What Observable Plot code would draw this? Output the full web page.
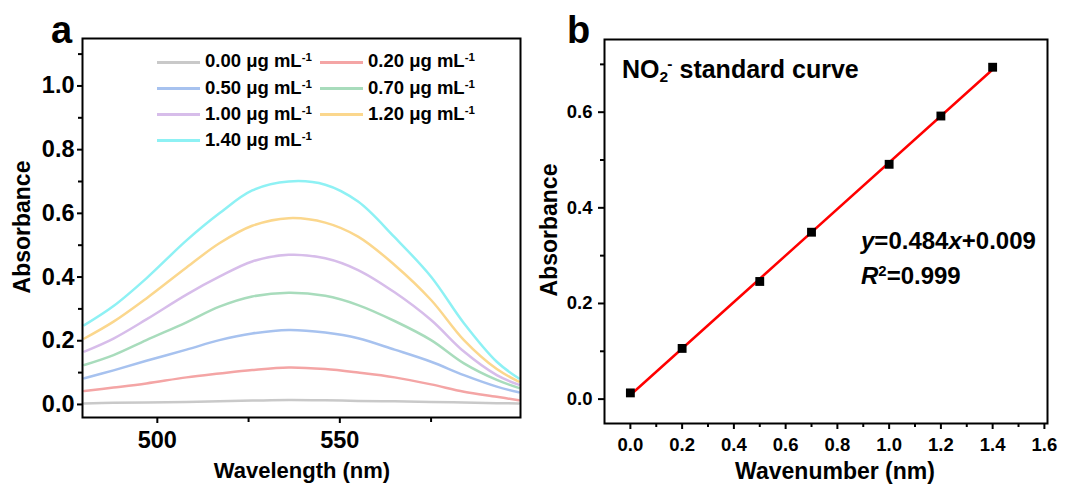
<!DOCTYPE html>
<html>
<head>
<meta charset="utf-8">
<script src="https://cdn.jsdelivr.net/npm/d3@7"></script>
<script src="https://cdn.jsdelivr.net/npm/@observablehq/plot@0.6"></script>
<style>
  html, body { margin: 0; padding: 0; background: #fff; }
  #wrap { position: relative; width: 1083px; height: 495px; overflow: hidden;
          font-family: "Liberation Sans", Arial, sans-serif; font-weight: bold; color: #000; }
  .t { position: absolute; white-space: nowrap; line-height: 1; }
  .plot { position: absolute; top: 0; }
  sup.s { font-size: 0.62em; position: relative; top: -0.55em; vertical-align: baseline; line-height: 0; }
  sub.s { font-size: 0.62em; position: relative; top: 0.3em; vertical-align: baseline; line-height: 0; }
  .sw { position: absolute; height: 3px; width: 43px; }
</style>
</head>
<body>
<div id="wrap"></div>
<script>
// ---------- Panel a data: UV-vis spectra ----------
const wavelength = [480, 488, 497, 508, 517, 526, 536, 546, 555, 565, 575, 584, 593, 599];
const concLabels = ["0.00", "0.20", "0.50", "0.70", "1.00", "1.20", "1.40"];
const abs000 = [0.003, 0.005, 0.006, 0.008, 0.010, 0.012, 0.014, 0.013, 0.011, 0.010, 0.008, 0.006, 0.004, 0.003];
const abs020 = [0.042, 0.053, 0.066, 0.085, 0.097, 0.108, 0.116, 0.111, 0.100, 0.085, 0.063, 0.040, 0.024, 0.013];
const abs050 = [0.082, 0.107, 0.137, 0.172, 0.202, 0.223, 0.234, 0.226, 0.208, 0.172, 0.134, 0.092, 0.056, 0.038];
const abs070 = [0.124, 0.155, 0.202, 0.258, 0.307, 0.339, 0.351, 0.341, 0.312, 0.262, 0.202, 0.129, 0.077, 0.052];
const abs100 = [0.166, 0.207, 0.267, 0.345, 0.401, 0.449, 0.470, 0.459, 0.422, 0.352, 0.265, 0.166, 0.092, 0.062];
const abs120 = [0.207, 0.260, 0.333, 0.430, 0.506, 0.561, 0.585, 0.571, 0.527, 0.438, 0.328, 0.202, 0.111, 0.072];
const abs140 = [0.249, 0.309, 0.396, 0.515, 0.600, 0.672, 0.700, 0.690, 0.637, 0.525, 0.401, 0.255, 0.134, 0.082];
const spectra = [abs000, abs020, abs050, abs070, abs100, abs120, abs140];

const yMajorA = [0.0, 0.2, 0.4, 0.6, 0.8, 1.0];
const yMinorA = [0.1, 0.3, 0.5, 0.7, 0.9, 1.1];
const xMajorA = [500, 550];
const xMinorA = [525, 575];

// ---------- Panel b data: standard curve ----------
const concStd = [0.0, 0.2, 0.5, 0.7, 1.0, 1.2, 1.4];
const absStd = [0.013, 0.106, 0.246, 0.349, 0.491, 0.592, 0.694];
const xMajorB = [0.0, 0.2, 0.4, 0.6, 0.8, 1.0, 1.2, 1.4, 1.6];
const xMinorB = [0.1, 0.3, 0.5, 0.7, 0.9, 1.1, 1.3, 1.5];
const yMajorB = [0.0, 0.2, 0.4, 0.6];
const yMinorB = [0.1, 0.3, 0.5, 0.7];

// ---------- styles ----------
const seriesColors = ["#c9c9c9", "#f4a5a5", "#a7c2ef", "#a8dcbc", "#d7bdea", "#fbd78d", "#8ef1f4"];
const FONT = '"Liberation Sans", Arial, sans-serif';

const wrap = document.getElementById("wrap");

// long-form table for the lines
const rows = [];
wavelength.forEach((w, i) => {
  spectra.forEach((arr, k) => rows.push({ w, a: arr[i], c: concLabels[k] }));
});

const f1 = d3.format(".1f");

const plotA = Plot.plot({
  width: 540, height: 495,
  marginLeft: 82, marginRight: 20, marginTop: 38, marginBottom: 78,
  x: { domain: [479.5, 599.5], label: null },
  y: { domain: [-0.041, 1.149], label: null },
  color: { domain: concLabels, range: seriesColors },
  style: { fontFamily: FONT, fontWeight: "bold", color: "black", background: "transparent", overflow: "visible" },
  marks: [
    Plot.line(rows, { x: "w", y: "a", z: "c", stroke: "c", strokeWidth: 2.5, curve: "catmull-rom" }),
    Plot.axisY(yMajorA, { tickSize: 5, tickPadding: 3, strokeWidth: 2, tickFormat: f1, fontSize: 23.5, label: null }),
    Plot.axisY(yMinorA, { tickSize: 4, strokeWidth: 2, tickFormat: () => "", label: null }),
    Plot.axisX(xMajorA, { tickSize: 6, tickPadding: 8, strokeWidth: 2, tickFormat: d => String(d), fontSize: 23.5, label: null }),
    Plot.axisX(xMinorA, { tickSize: 5, strokeWidth: 2, tickFormat: () => "", label: null }),
    Plot.frame({ stroke: "black", strokeWidth: 2 })
  ]
});
plotA.classList.add("plot");
plotA.style.left = "0px";
wrap.appendChild(plotA);

const stdRows = concStd.map((x, i) => ({ x, y: absStd[i] }));
const plotB = Plot.plot({
  width: 543, height: 495,
  marginLeft: 64, marginRight: 36, marginTop: 39, marginBottom: 72,
  x: { domain: [-0.1, 1.612], label: null },
  y: { domain: [-0.051, 0.752], label: null },
  style: { fontFamily: FONT, fontWeight: "bold", color: "black", background: "transparent", overflow: "visible" },
  marks: [
    Plot.linearRegressionY(stdRows, { x: "x", y: "y", stroke: "#ff0000", strokeWidth: 2.5, ci: 0 }),
    Plot.dot(stdRows, { x: "x", y: "y", symbol: "square", fill: "black", r: 5 }),
    Plot.axisY(yMajorB, { tickSize: 6, tickPadding: 6, strokeWidth: 2, tickFormat: f1, fontSize: 18.5, label: null }),
    Plot.axisY(yMinorB, { tickSize: 4, strokeWidth: 2, tickFormat: () => "", label: null }),
    Plot.axisX(xMajorB, { tickSize: 6, tickPadding: 8, strokeWidth: 2, tickFormat: f1, fontSize: 18.5, label: null }),
    Plot.axisX(xMinorB, { tickSize: 4, strokeWidth: 2, tickFormat: () => "", label: null }),
    Plot.frame({ stroke: "black", strokeWidth: 2 })
  ]
});
plotB.classList.add("plot");
plotB.style.left = "540px";
wrap.appendChild(plotB);

// ---------- text overlays ----------
function addText(html, left, baseline, size, extra) {
  const d = document.createElement("div");
  d.className = "t";
  d.innerHTML = html;
  d.style.left = left + "px";
  d.style.top = (baseline - 0.8465 * size) + "px";
  d.style.fontSize = size + "px";
  if (extra) Object.assign(d.style, extra);
  wrap.appendChild(d);
  return d;
}
function addCentered(html, cx, cy, size, rotate) {
  const d = document.createElement("div");
  d.className = "t";
  d.innerHTML = html;
  d.style.left = cx + "px";
  d.style.top = cy + "px";
  d.style.fontSize = size + "px";
  d.style.transform = "translate(-50%, -50%)" + (rotate ? " rotate(-90deg)" : "");
  wrap.appendChild(d);
  return d;
}

// panel letters
addText("a", 51, 43, 38);
addText("b", 567, 43, 38);

// axis titles
addCentered("Absorbance", 22, 227, 23, true);
addCentered("Wavelength (nm)", 302, 471, 22, false);
addCentered("Absorbance", 549, 230, 23, true);
addCentered("Wavenumber (nm)", 835, 471, 23, false);

// legend (panel a)
const legendCols = [157, 320];
const legendRows = [62, 88.5, 114.5, 140.5];
concLabels.forEach((lab, i) => {
  const col = i % 2, row = Math.floor(i / 2);
  const sw = document.createElement("div");
  sw.className = "sw";
  sw.style.left = legendCols[col] + "px";
  sw.style.top = (legendRows[row] - 1.5) + "px";
  sw.style.background = seriesColors[i];
  wrap.appendChild(sw);
  addText(lab + ' \u03bcg mL<sup class="s">-1</sup>', legendCols[col] + 48, legendRows[row] + 6, 18.5);
});

// panel b annotations
addText('NO<sub class="s">2</sub><sup class="s" style="margin-left:-0.05em">-</sup> standard curve', 622, 78, 25);
addText('<i>y</i>=0.484<i>x</i>+0.009', 861, 249, 24);
addText('<i>R</i><sup class="s">2</sup>=0.999', 861, 284, 24);
</script>
</body>
</html>
